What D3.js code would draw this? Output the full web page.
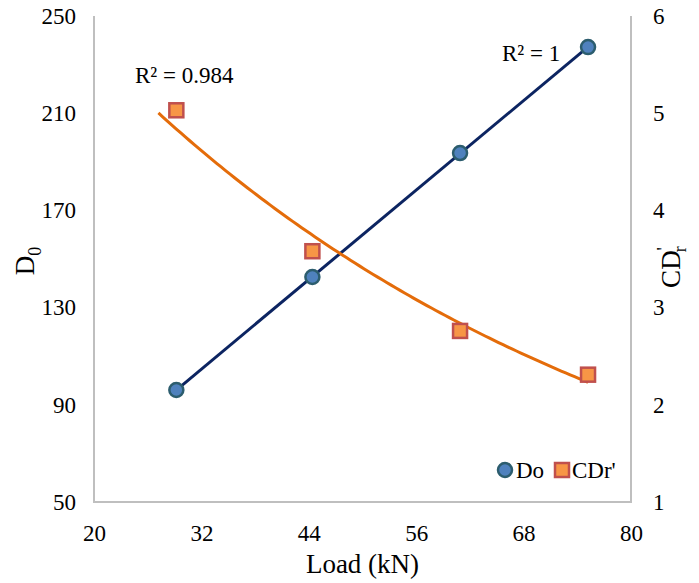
<!DOCTYPE html>
<html><head><meta charset="utf-8">
<script src="https://cdnjs.cloudflare.com/ajax/libs/d3/7.8.5/d3.min.js"></script>
<style>body{margin:0;background:#fff;} svg{display:block;} svg text{font-family:"Liberation Serif","Times New Roman",serif !important;fill:#000;}</style>
</head><body>
<script>
const loads = [29.2, 44.4, 60.9, 75.2];
const doValues = [96.1, 142.6, 193.6, 237.2];
const cdrValues = [5.03, 3.58, 2.76, 2.31];
const xTicks = [20, 32, 44, 56, 68, 80];
const yLeftTicks = [50, 90, 130, 170, 210, 250];
const yRightTicks = [1, 2, 3, 4, 5, 6];

const W = 699, H = 583;
const m = {l: 94, r: 631, t: 16, b: 502};
const svg = d3.select("body").append("svg").attr("width", W).attr("height", H);
const x = d3.scaleLinear().domain([20, 80]).range([m.l, m.r]);
const yL = d3.scaleLinear().domain([50, 250]).range([m.b, m.t]);
const yR = d3.scaleLinear().domain([1, 6]).range([m.b, m.t]);

// frame
const frame = "#bfbfbf";
svg.append("path").attr("d", `M${m.l},${m.t}V${m.b}H${m.r}V${m.t}`).attr("fill", "none").attr("stroke", frame).attr("stroke-width", 2);

// axes
const fs = 23;
const fmt = d3.format("d");
const gx = svg.append("g").attr("transform", `translate(0,${m.b})`).call(d3.axisBottom(x).tickValues(xTicks).tickFormat(fmt).tickSize(0).tickPadding(23));
const gl = svg.append("g").attr("transform", `translate(${m.l},0)`).call(d3.axisLeft(yL).tickValues(yLeftTicks).tickFormat(fmt).tickSize(0).tickPadding(18));
const gr = svg.append("g").attr("transform", `translate(${m.r},0)`).call(d3.axisRight(yR).tickValues(yRightTicks).tickFormat(fmt).tickSize(0).tickPadding(22));
[gx, gl, gr].forEach(g => {
  g.attr("font-family", null).attr("font-size", null);
  g.select(".domain").remove();
  g.selectAll("text").attr("font-size", fs);
});
gx.selectAll("text").attr("dy", "0.71em");

// axis titles
svg.append("text").attr("x", (m.l + m.r) / 2).attr("y", 573).attr("text-anchor", "middle").attr("font-size", 27).text("Load (kN)");
const tl = svg.append("text").attr("transform", `translate(34,${(m.t + m.b) / 2 + 2}) rotate(-90)`).attr("text-anchor", "middle").attr("font-size", 27);
tl.append("tspan").text("D");
tl.append("tspan").attr("font-size", 18).attr("dy", 7).text("0");
const tr = svg.append("text").attr("transform", `translate(680,${(m.t + m.b) / 2 + 8}) rotate(-90)`).attr("text-anchor", "middle").attr("font-size", 27);
tr.append("tspan").text("CD");
tr.append("tspan").attr("font-size", 18).attr("dy", -10).text("'");
tr.append("tspan").attr("font-size", 18).attr("dy", 16).attr("dx", -5).text("r");

// linear fit for Do
const mx = d3.mean(loads), my = d3.mean(doValues);
const slope = d3.sum(loads.map((v, i) => (v - mx) * (doValues[i] - my))) / d3.sum(loads.map(v => (v - mx) ** 2));
const icpt = my - slope * mx;
const x0 = d3.min(loads), x1 = d3.max(loads);
svg.append("line").attr("x1", x(x0)).attr("y1", yL(icpt + slope * x0)).attr("x2", x(x1)).attr("y2", yL(icpt + slope * x1))
  .attr("stroke", "#0c2461").attr("stroke-width", 3);

// exponential fit for CDr'
const lny = cdrValues.map(Math.log);
const my2 = d3.mean(lny);
const b = d3.sum(loads.map((v, i) => (v - mx) * (lny[i] - my2))) / d3.sum(loads.map(v => (v - mx) ** 2));
const a = Math.exp(my2 - b * mx);
const curvePts = d3.range(x0 - 2, x1 + 0.001, 0.5).map(v => [x(v), yR(a * Math.exp(b * v))]);
svg.append("path").attr("d", d3.line()(curvePts)).attr("fill", "none").attr("stroke", "#e46c0a").attr("stroke-width", 3);

// markers
const dotFill = "#4f81bd", dotStroke = "#2c5d6e";
const sqFill = "#f79646", sqStroke = "#c0504d";
svg.selectAll(".dot").data(loads).join("circle").attr("class", "dot").attr("cx", d => x(d)).attr("cy", (d, i) => yL(doValues[i])).attr("r", 7)
  .attr("fill", dotFill).attr("stroke", dotStroke).attr("stroke-width", 2.5);
svg.selectAll(".sq").data(loads).join("rect").attr("class", "sq").attr("x", d => x(d) - 7).attr("y", (d, i) => yR(cdrValues[i]) - 7).attr("width", 14).attr("height", 14)
  .attr("fill", sqFill).attr("stroke", sqStroke).attr("stroke-width", 2.5);

// R² labels
svg.append("text").attr("x", 135).attr("y", 83).attr("font-size", 23).text("R² = 0.984");
svg.append("text").attr("x", 502).attr("y", 61).attr("font-size", 23).text("R² = 1");

// legend
svg.append("circle").attr("cx", 505).attr("cy", 470).attr("r", 7).attr("fill", dotFill).attr("stroke", dotStroke).attr("stroke-width", 2.5);
svg.append("text").attr("x", 516).attr("y", 478).attr("font-size", 23).text("Do");
svg.append("rect").attr("x", 555).attr("y", 463).attr("width", 14).attr("height", 14).attr("fill", sqFill).attr("stroke", sqStroke).attr("stroke-width", 2.5);
svg.append("text").attr("x", 572).attr("y", 478).attr("font-size", 23).text("CDr'");
</script>
</body></html>
